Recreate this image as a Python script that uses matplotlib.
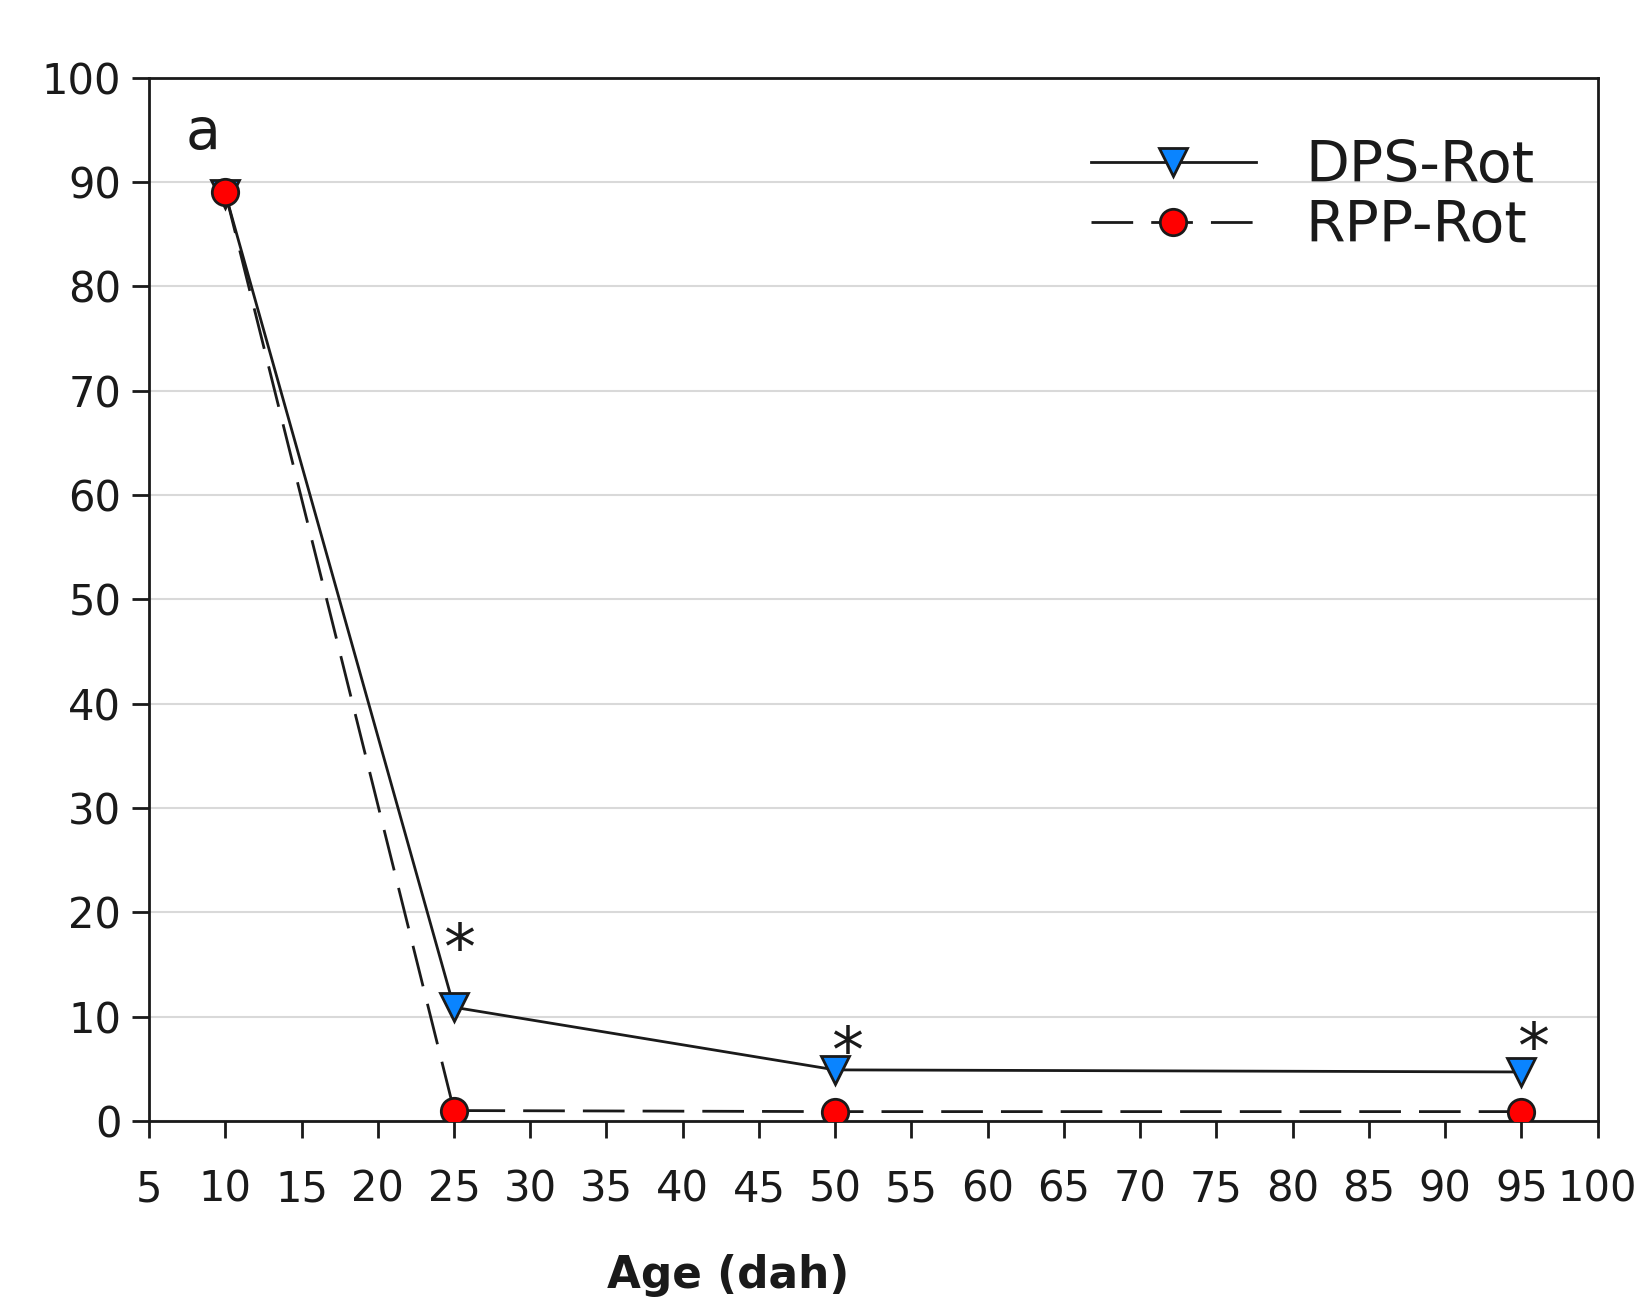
import matplotlib
matplotlib.use("Agg")
import matplotlib.pyplot as plt

# data
age = [10, 25, 50, 95]
dps_rot = [88.9, 10.9, 4.9, 4.7]
rpp_rot = [89.0, 1.0, 0.9, 0.9]
# significance stars above DPS-Rot
star_x = [25.3, 50.8, 95.8]
star_y = [16.3, 6.4, 6.8]
xticks = list(range(5, 101, 5))
yticks = list(range(0, 101, 10))

plt.rcParams['font.family'] = ['DejaVu Sans']
txt = '#1a1a1a'

fig = plt.figure(figsize=(16.49, 13), dpi=100)
ax = fig.add_axes([0.0904, 0.1377, 0.8784, 0.8025])

ax.plot(age, dps_rot, color=txt, lw=2.0, marker='v', markersize=20,
        markerfacecolor='#0a84ff', markeredgecolor=txt, markeredgewidth=2.0,
        label='DPS-Rot', zorder=3)
ax.plot(age, rpp_rot, color=txt, lw=2.0, linestyle=(0, (15, 6.5)), marker='o',
        markersize=19, markerfacecolor='#ff0000', markeredgecolor=txt,
        markeredgewidth=2.0, label='RPP-Rot', zorder=4)

for x, y in zip(star_x, star_y):
    ax.text(x, y, '*', fontsize=46, ha='center', va='center', color=txt)

ax.text(0.025, 0.947, 'a', transform=ax.transAxes, fontsize=41, ha='left', va='center', color=txt)

ax.set_xlim(5, 100)
ax.set_ylim(0, 100)
ax.set_xticks(xticks)
ax.set_yticks(yticks)
ax.tick_params(axis='both', direction='out', length=12, width=2.0, colors=txt,
               labelsize=30, pad=8)
ax.tick_params(axis='x', pad=22)
ax.yaxis.grid(True, color='#d9d9d9', lw=1.5)
ax.set_axisbelow(True)
for s in ax.spines.values():
    s.set_linewidth(2.0)
    s.set_color(txt)

fig.text(0.4415, 0.019, 'Age (dah)', fontsize=31.5, fontweight='bold', ha='center',
         va='center', color=txt)

leg = ax.legend(loc='upper left', bbox_to_anchor=(0.650, 0.941), frameon=False,
                fontsize=41, handlelength=2.9, handletextpad=0.88, labelspacing=0.08,
                borderpad=0, borderaxespad=0)
for t in leg.get_texts():
    t.set_color(txt)

fig.savefig('out.png', dpi=100)
